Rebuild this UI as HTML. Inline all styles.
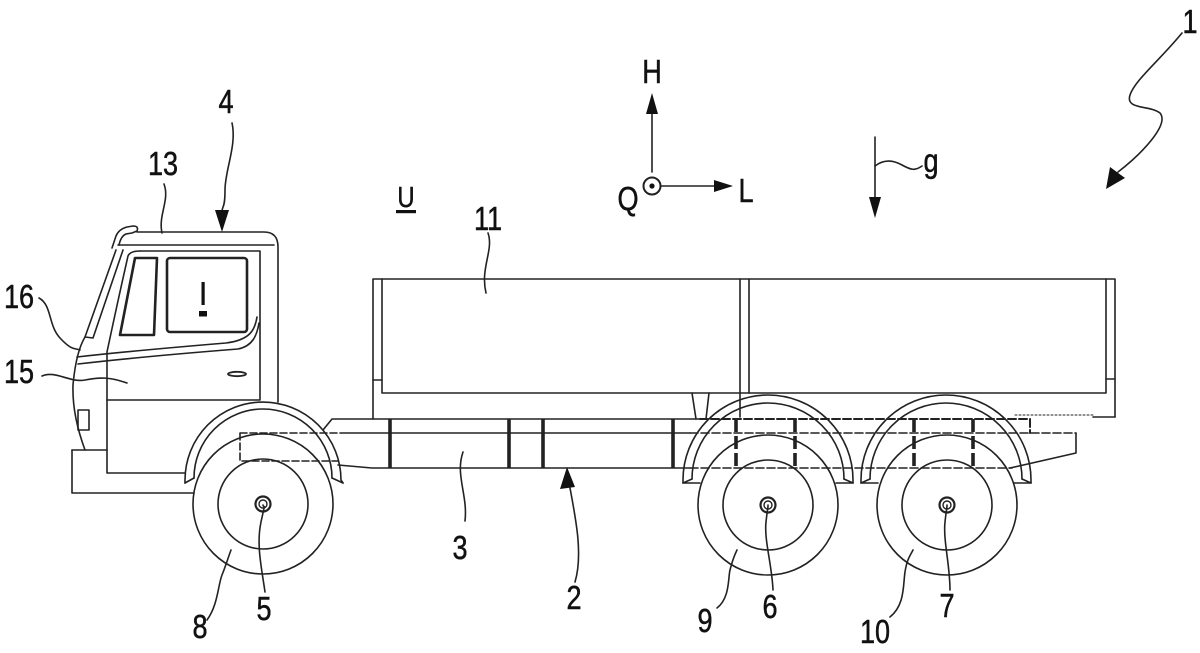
<!DOCTYPE html>
<html><head><meta charset="utf-8"><style>
html,body{margin:0;padding:0;background:#fff;}
svg{display:block;}
text{font-family:"Liberation Sans",Arial,sans-serif;fill:#111;}
</style></head><body>
<svg width="1200" height="653" viewBox="0 0 1200 653" xmlns="http://www.w3.org/2000/svg">
<rect width="1200" height="653" fill="#fff"/>
<g fill="none" stroke="#222" stroke-width="1.6" stroke-linejoin="round" stroke-linecap="round">
<!-- CAB -->
<path d="M137,232 L264,232 Q278,232 278,247 L278,402"/>
<path d="M118,245 L274,245"/>
<path d="M112,248 L116,236 Q119,229 127,227 L133,226 Q139,226 137,231 L132,233 L126,234 Q121,236 119,245"/>
<path d="M116,250 L85,337 Q76,352 73,385 Q72,415 85,450"/>
<path d="M123,250 L93,338 L85,337"/>
<path d="M140,251 L260,251 L260,400 L107,400"/>
<path d="M140,251 Q130,251 128,256 Q118,300 107,352 L107,473 L185,473"/>
<path d="M72,450 L107,450"/>
<path d="M72,450 L72,493 L194,493"/>
<rect x="78" y="410" width="11" height="20"/>
<!-- windows -->
<path d="M135,258 L157,258 L154,335 L120,335 Z" stroke-width="2.6"/>
<rect x="167" y="258" width="80" height="74" rx="3" stroke-width="2.6"/>
<!-- belt lines -->
<path d="M77,357 C130,351 190,346 226,343 C250,340 255,330 257,317"/>
<path d="M78,364 C130,358 200,352 238,349 C253,346 257,335 259,323"/>
<ellipse cx="237" cy="374" rx="9" ry="2.2" stroke-width="1.8"/>
<!-- front fender -->
<path d="M185,483 L185,480 A78,78 0 0 1 341,480 L343,483"/>
<path d="M194,478 A69,69 0 0 1 332,478"/>
<path d="M185,483 L194,478 M343,483 L332,478"/>
<!-- front wheel -->
<circle cx="263" cy="504" r="70"/>
<circle cx="263" cy="504" r="45"/>
<circle cx="263" cy="504" r="7.5" stroke-width="2.2"/>
<circle cx="263" cy="504" r="4" stroke-width="1.4"/>
<!-- dashed under front fender -->
<path d="M240,433 L340,433 M240,433 L240,461 L338,461" stroke-dasharray="7 3"/>
<!-- chassis -->
<path d="M323,430 L332,419 L700,419"/>
<path d="M340,433 L690,433"/>
<path d="M338,465 L372,468 L690,468"/>
<path d="M700,419 L1030,419 L1030,433" stroke-dasharray="8 3" stroke-width="2"/>
<path d="M690,433 L1076,433" stroke-dasharray="8 3"/>
<path d="M1076,433 L1076,453 L1010,468"/>
<path d="M690,468 L1012,468" stroke-dasharray="8 3"/>
<g stroke-width="3.6" stroke-linecap="butt">
<path d="M390,419 L390,468 M509,419 L509,468 M543,419 L543,468 M673,419 L673,468"/>
</g>
<g stroke-width="3.6" stroke-linecap="butt" stroke-dasharray="13 4">
<path d="M736,419 L736,468 M795,419 L795,468 M914,419 L914,468 M973,419 L973,468"/>
</g>
<!-- body -->
<path d="M373,419 L373,279 L1115,279 L1115,417"/>
<path d="M382,279 L382,393 L1106,393 L1106,279"/>
<path d="M373,380 L382,380 M1106,379 L1115,379"/>
<path d="M740,279 L740,417 M749,279 L749,393"/>
<path d="M692,393 L696,419 M709,393 L706,419"/>
<path d="M1093,417 L1115,417"/>
<path d="M1015,415 L1093,415" stroke-dasharray="2 2" stroke-width="1"/>
<!-- rear fenders -->
<path d="M683,483 L683,480 A85,85 0 0 1 853,480 L853,483"/>
<path d="M692,479 A76,76 0 0 1 844,479"/>
<path d="M683,483 L700,483 M683,483 L692,479 M836,483 L853,483 M853,483 L844,479"/>
<path d="M861,483 L861,480 A85,85 0 0 1 1031,480 L1031,483"/>
<path d="M870,479 A76,76 0 0 1 1022,479"/>
<path d="M861,483 L878,483 M861,483 L870,479 M1014,483 L1031,483 M1031,483 L1022,479"/>
<!-- rear wheels -->
<circle cx="768" cy="505" r="70"/>
<circle cx="768" cy="505" r="45"/>
<circle cx="768" cy="505" r="7.5" stroke-width="2.2"/>
<circle cx="768" cy="505" r="4" stroke-width="1.4"/>
<circle cx="947" cy="505" r="70"/>
<circle cx="947" cy="505" r="45"/>
<circle cx="947" cy="505" r="7.5" stroke-width="2.2"/>
<circle cx="947" cy="505" r="4" stroke-width="1.4"/>
<!-- leaders -->
<path d="M164,184 C170,200 158,215 162,233"/>
<path d="M39,298 C52,305 48,325 60,338 S75,348 80,350"/>
<path d="M42,376 C55,370 70,383 85,380 S110,377 127,383"/>
<path d="M488,233 C494,250 480,268 486,293"/>
<path d="M463,452 C455,475 468,495 465,521"/>
<path d="M207,620 C218,605 218,585 222,575 S228,558 231,550"/>
<path d="M265,592 C262,570 256,545 261,522 S264,510 263,505"/>
<path d="M717,608 C730,598 728,578 730,570 S734,556 737,550"/>
<path d="M773,590 C772,565 764,540 766,522 S768,510 768,505"/>
<path d="M890,617 C905,605 903,585 905,572 S910,556 913,550"/>
<path d="M950,590 C950,565 943,540 945,522 S947,510 947,505"/>
<!-- arrows -->
<path d="M232,123 C237,145 225,170 225,190 S222,205 222,212"/>
<path d="M575,582 C583,555 576,520 570,488"/>
<path d="M1182,33 C1160,60 1135,80 1130,95 C1125,110 1150,105 1160,113 C1170,125 1140,155 1118,172"/>
<path d="M652,172 L652,112"/>
<path d="M661,186 L716,186"/>
<circle cx="652" cy="186" r="8.5" stroke-width="2"/>
<path d="M875,137 L875,199"/>
<path d="M875,166 C884,159 893,160 902,165 S915,171 922,166"/>
</g>
<g fill="#111" stroke="none">
<polygon points="222,232 215,210 229,210"/>
<polygon points="567,467 560,489 575,487"/>
<polygon points="1106,189 1110,167 1125,178"/>
<polygon points="652,93 646,114 658,114"/>
<polygon points="733,186 714,180 714,192"/>
<polygon points="875,218 869,197 881,197"/>
<circle cx="652" cy="186" r="2.6"/>
<rect x="201.5" y="282" width="3.2" height="23"/>
<rect x="199" y="311" width="8" height="5.5"/>
<rect x="396" y="210" width="20" height="3.2"/>
</g>
<!-- labels -->
<g font-size="33" stroke="#111" stroke-width="0.5">
<text transform="translate(1190,33) scale(0.82,1)" text-anchor="middle">1</text>
<text transform="translate(226,113) scale(0.82,1)" text-anchor="middle">4</text>
<text transform="translate(163,175) scale(0.82,1)" text-anchor="middle">13</text>
<text transform="translate(19,308) scale(0.82,1)" text-anchor="middle">16</text>
<text transform="translate(19,383) scale(0.82,1)" text-anchor="middle">15</text>
<text transform="translate(488,230) scale(0.82,1)" text-anchor="middle">11</text>
<text transform="translate(652,83) scale(0.82,1)" text-anchor="middle">H</text>
<text transform="translate(628,210) scale(0.82,1)" text-anchor="middle">Q</text>
<text transform="translate(746,202) scale(0.82,1)" text-anchor="middle">L</text>
<text transform="translate(931,172) scale(0.82,1)" text-anchor="middle">g</text>
<text transform="translate(460,559) scale(0.82,1)" text-anchor="middle">3</text>
<text transform="translate(574,609) scale(0.82,1)" text-anchor="middle">2</text>
<text transform="translate(200,638) scale(0.82,1)" text-anchor="middle">8</text>
<text transform="translate(264,620) scale(0.82,1)" text-anchor="middle">5</text>
<text transform="translate(705,632) scale(0.82,1)" text-anchor="middle">9</text>
<text transform="translate(770,618) scale(0.82,1)" text-anchor="middle">6</text>
<text transform="translate(875,643) scale(0.82,1)" text-anchor="middle">10</text>
<text transform="translate(947,617) scale(0.82,1)" text-anchor="middle">7</text>
<text transform="translate(406,207) scale(0.82,1)" text-anchor="middle" font-size="29">U</text>
</g>
</svg>
</body></html>
